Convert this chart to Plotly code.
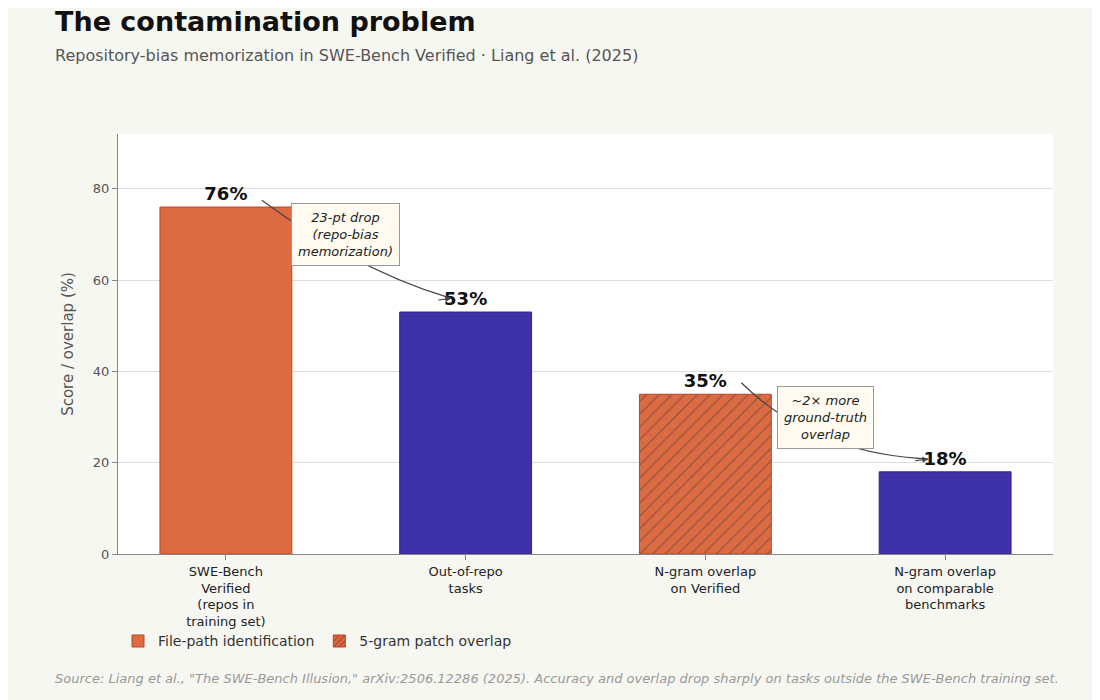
import plotly.graph_objects as go

categories = ["SWE-Bench<br>Verified<br>(repos in<br>training set)", "Out-of-repo<br>tasks",
              "N-gram overlap<br>on Verified", "N-gram overlap<br>on comparable<br>benchmarks"]
values = [76, 53, 35, 18]
labels = ["<b>76%</b>", "<b>53%</b>", "<b>35%</b>", "<b>18%</b>"]
colors = ["#DD6B42", "#3F31A8", "#DD6B42", "#3F31A8"]
borders = ["#B8452A", "#2E2390", "#B8452A", "#2E2390"]
patterns = ["", "", "/", ""]

xs = list(range(len(values)))
fig = go.Figure()
fig.add_trace(go.Bar(
    x=xs, y=values, width=0.55, showlegend=False,
    marker=dict(color=colors, line=dict(color=borders, width=1),
                pattern=dict(shape=patterns, fgcolor="#B8452A", size=9, solidity=0.15)),
    text=labels, textposition="outside", cliponaxis=False,
    textfont=dict(size=18, color="#111", family="DejaVu Sans"),
    hoverinfo="skip"))
# legend entries
fig.add_trace(go.Bar(x=[None], y=[None], name="File-path identification",
                     marker=dict(color="#DD6B42", line=dict(color="#B8452A", width=1))))
fig.add_trace(go.Bar(x=[None], y=[None], name="5-gram patch overlap",
                     marker=dict(color="#DD6B42", line=dict(color="#B8452A", width=1),
                                 pattern=dict(shape="/", fgcolor="#8A2E18", size=5, solidity=0.4))))

# curved arrows
arrows = [((0.15, 77.5), (0.55, 62), (0.94, 56)),
          ((2.15, 37.5), (2.45, 22), (2.93, 20.8))]
for (x0, y0), (cx, cy), (x1, y1) in arrows:
    fig.add_shape(type="path", path=f"M {x0},{y0} Q {cx},{cy} {x1},{y1}",
                  line=dict(color="#444", width=1.2), xref="x", yref="y")
    fig.add_annotation(x=x1, y=y1, ax=x1 - 0.06, ay=y1 - 0.4, axref="x", ayref="y",
                       xref="x", yref="y", showarrow=True, arrowhead=2, arrowsize=1,
                       arrowwidth=1.2, arrowcolor="#444", text="")

for x, y, t in [(0.5, 70, "23-pt drop<br>(repo-bias<br>memorization)"),
                (2.5, 30, "~2× more<br>ground-truth<br>overlap")]:
    fig.add_annotation(x=x, y=y, text=f"<i>{t}</i>", showarrow=False,
                       font=dict(size=13, color="#222"), bgcolor="#FFFBF0",
                       bordercolor="#999", borderwidth=1, borderpad=6)

fig.add_annotation(xref="paper", yref="paper", x=-0.07, y=1.31, xanchor="left",
                   text="<b>The contamination problem</b>", showarrow=False,
                   font=dict(size=27, color="#111"))
fig.add_annotation(xref="paper", yref="paper", x=-0.07, y=1.215, xanchor="left",
                   text="Repository-bias memorization in SWE-Bench Verified · Liang et al. (2025)",
                   showarrow=False, font=dict(size=16, color="#555"))
fig.add_annotation(xref="paper", yref="paper", x=-0.07, y=-0.32, xanchor="left",
                   text="<i>Source: Liang et al., \"The SWE-Bench Illusion,\" arXiv:2506.12286 (2025). "
                        "Accuracy and overlap drop sharply on tasks outside the SWE-Bench training set.</i>",
                   showarrow=False, font=dict(size=13, color="#999"))

fig.update_layout(
    width=1100, height=700, paper_bgcolor="#F7F7F2", plot_bgcolor="white",
    font=dict(family="DejaVu Sans", color="#333"),
    margin=dict(l=110, r=55, t=126, b=154),
    legend=dict(orientation="h", x=-0.0, y=-0.17, xanchor="left", yanchor="top",
                font=dict(size=14), bgcolor="rgba(0,0,0,0)"),
    xaxis=dict(range=[-0.45, 3.45], tickvals=xs, ticktext=categories,
               tickfont=dict(size=13, color="#222"), showline=True, linecolor="#888",
               ticks="outside", tickcolor="#888", showgrid=False),
    yaxis=dict(range=[0, 92], dtick=20, title=dict(text="Score / overlap (%)", font=dict(size=15, color="#555")),
               gridcolor="#DDD", showline=True, linecolor="#888", ticks="outside",
               tickcolor="#888", tickfont=dict(size=13, color="#555"), zeroline=False),
)
fig.write_html("out.html")
